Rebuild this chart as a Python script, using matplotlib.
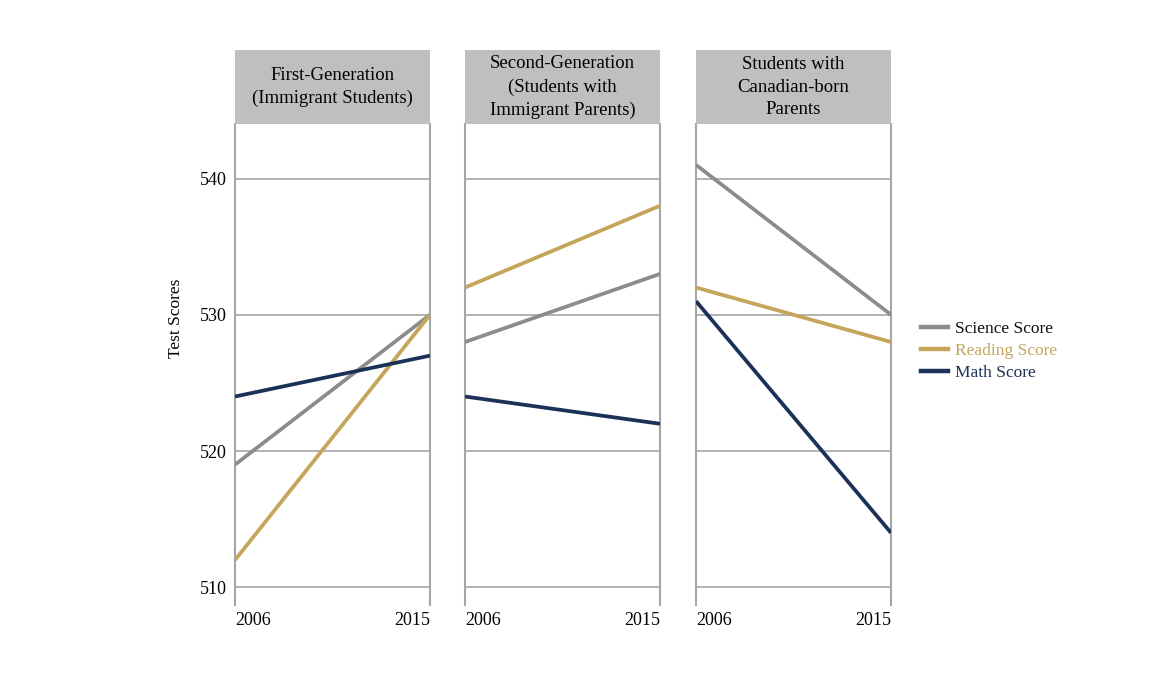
import matplotlib
matplotlib.use("Agg")
import matplotlib.pyplot as plt
from matplotlib.lines import Line2D

plt.rcParams['font.family'] = ['Liberation Serif', 'DejaVu Serif']

years = ["2006", "2015"]
panels = ["First-Generation\n(Immigrant Students)",
          "Second-Generation\n(Students with\nImmigrant Parents)",
          "Students with\nCanadian-born\nParents"]
science = [[519, 530], [528, 533], [541, 530]]
reading = [[512, 530], [532, 538], [532, 528]]
math = [[524, 527], [524, 522], [531, 514]]
series_names = ["Science Score", "Reading Score", "Math Score"]
colors = ["#8c8c8c", "#c4a55a", "#1b3157"]
yticks = [510, 520, 530, 540]

W, H = 1149, 681
fig = plt.figure(figsize=(W / 100, H / 100), dpi=100)

lefts = [235, 465, 696]
pw = 195
top_px, bot_px = 124, 605
hdr_top = 50
grid_c = "#a6a6a6"

for i, lx in enumerate(lefts):
    ax = fig.add_axes([lx / W, 1 - bot_px / H, pw / W, (bot_px - top_px) / H])
    xs = [0, 1]
    for data, c in zip([science, reading, math], colors):
        ax.plot(xs, data[i], color=c, lw=2.7, solid_capstyle='butt', zorder=3)
    ax.set_xlim(0, 1)
    ax.set_ylim(508.7, 544.0)
    for y in yticks:
        ax.axhline(y, color=grid_c, lw=1.2, zorder=1)
    for s in ['top', 'bottom']:
        ax.spines[s].set_visible(False)
    for s in ['left', 'right']:
        ax.spines[s].set_color(grid_c)
        ax.spines[s].set_linewidth(1.5)
    ax.set_xticks([0, 1])
    ax.set_xticklabels(years, fontsize=13)
    labs = ax.get_xticklabels()
    labs[0].set_ha('left')
    labs[1].set_ha('right')
    ax.tick_params(axis='x', length=0, pad=5)
    ax.set_yticks(yticks)
    if i == 0:
        ax.set_yticklabels([str(v) for v in yticks], fontsize=13)
        ax.tick_params(axis='y', length=0, pad=6)
        ax.set_ylabel("Test Scores", fontsize=12.5)
        ax.yaxis.set_label_coords(-0.26, 0.597)
    else:
        ax.set_yticklabels([])
        ax.tick_params(axis='y', length=0)
    # header
    hx = fig.add_axes([lx / W, 1 - top_px / H, pw / W, (top_px - hdr_top) / H])
    hx.set_facecolor("#c0bfc0")
    for s in hx.spines.values():
        s.set_visible(False)
    hx.set_xticks([])
    hx.set_yticks([])
    hx.text(0.5, 0.5, panels[i], ha='center', va='center', fontsize=13.5,
            linespacing=1.45, transform=hx.transAxes)

handles = [Line2D([0], [0], color=c, lw=3.2) for c in colors]
leg = fig.legend(handles, series_names, loc='center left',
                 bbox_to_anchor=(905 / W, 1 - 351 / H), frameon=False,
                 fontsize=12.5, handlelength=1.6, handletextpad=0.4,
                 labelspacing=0.35)
for t, c in zip(leg.get_texts(), ["#111111", colors[1], colors[2]]):
    t.set_color(c)

fig.savefig("out.png", dpi=100)
